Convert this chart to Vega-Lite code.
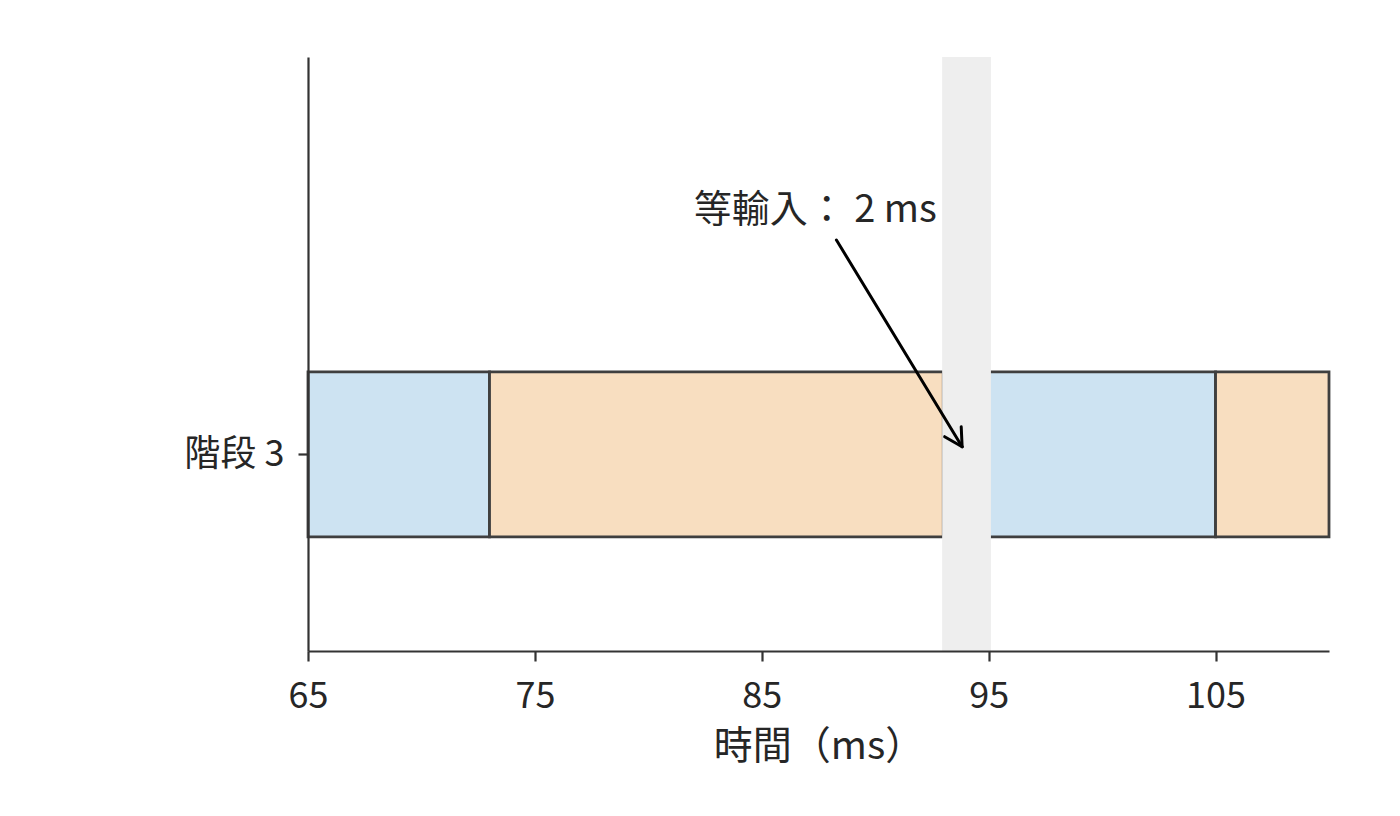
{
  "$schema": "https://vega.github.io/schema/vega-lite/v6.json",
  "autosize": "none",
  "width": 1021,
  "height": 594,
  "padding": {"left": 308, "top": 57, "right": 71, "bottom": 165},
  "background": "white",
  "datasets": {
    "segments": [
      {"start": 65, "end": 73, "phase": "A"},
      {"start": 73, "end": 93, "phase": "B"},
      {"start": 95, "end": 105, "phase": "A"},
      {"start": 105, "end": 110, "phase": "B"}
    ],
    "arrow": [
      {"x": 88.29, "y": 69.19, "x2": 93.83, "y2": 34.39},
      {"x": 93.06, "y": 36.08, "x2": 93.83, "y2": 34.39},
      {"x": 93.79, "y": 37.76, "x2": 93.83, "y2": 34.39}
    ]
  },
  "layer": [
    {
      "data": {"name": "segments"},
      "mark": {"type": "rect", "stroke": "#3f3f3f", "strokeWidth": 2.8},
      "encoding": {
        "x": {
          "field": "start",
          "type": "quantitative",
          "scale": {"domain": [65, 110], "nice": false, "zero": false},
          "axis": {
            "values": [65, 75, 85, 95, 105],
            "title": "時間（ms）",
            "zindex": 1
          }
        },
        "x2": {"field": "end"},
        "y": {
          "datum": 19.2,
          "type": "quantitative",
          "scale": {"domain": [0, 100], "nice": false, "zero": false},
          "axis": {
            "values": [33.1],
            "labelExpr": "'階段 3'",
            "title": null,
            "zindex": 1
          }
        },
        "y2": {"datum": 47.0},
        "color": {
          "field": "phase",
          "type": "nominal",
          "scale": {"domain": ["A", "B"], "range": ["#cde3f2", "#f8dec0"]},
          "legend": null
        },
        "opacity": {"value": 1}
      }
    },
    {
      "data": {"values": [{"from": 92.95, "to": 95.1}]},
      "mark": {"type": "rect", "color": "#eeeeee", "opacity": 1},
      "encoding": {
        "x": {"field": "from", "type": "quantitative"},
        "x2": {"field": "to"}
      }
    },
    {
      "data": {"name": "arrow"},
      "mark": {"type": "rule", "color": "black", "strokeWidth": 3, "strokeCap": "round"},
      "encoding": {
        "x": {"field": "x", "type": "quantitative"},
        "y": {"field": "y", "type": "quantitative"},
        "x2": {"field": "x2"},
        "y2": {"field": "y2"}
      }
    },
    {
      "data": {"values": [{"x": 82.0, "y": 72.2, "label": "等輸入： 2 ms"}]},
      "mark": {
        "type": "text",
        "align": "left",
        "baseline": "alphabetic",
        "fontSize": 38,
        "font": "Noto Sans CJK TC",
        "color": "#262626"
      },
      "encoding": {
        "x": {"field": "x", "type": "quantitative"},
        "y": {"field": "y", "type": "quantitative"},
        "text": {"field": "label"}
      }
    }
  ],
  "config": {
    "view": {"stroke": null},
    "font": "Noto Sans CJK TC",
    "axis": {
      "grid": false,
      "domainColor": "#333333",
      "domainWidth": 2.2,
      "tickColor": "#333333",
      "tickWidth": 2.2,
      "tickSize": 10,
      "labelFont": "Noto Sans CJK TC",
      "labelFontSize": 36,
      "labelColor": "#262626",
      "titleFont": "Noto Sans CJK TC",
      "titleFontSize": 39,
      "titleFontWeight": "normal",
      "titleColor": "#262626"
    },
    "axisX": {"labelPadding": 18, "titlePadding": 13, "labelFlush": false},
    "axisY": {"labelPadding": 14}
  }
}
